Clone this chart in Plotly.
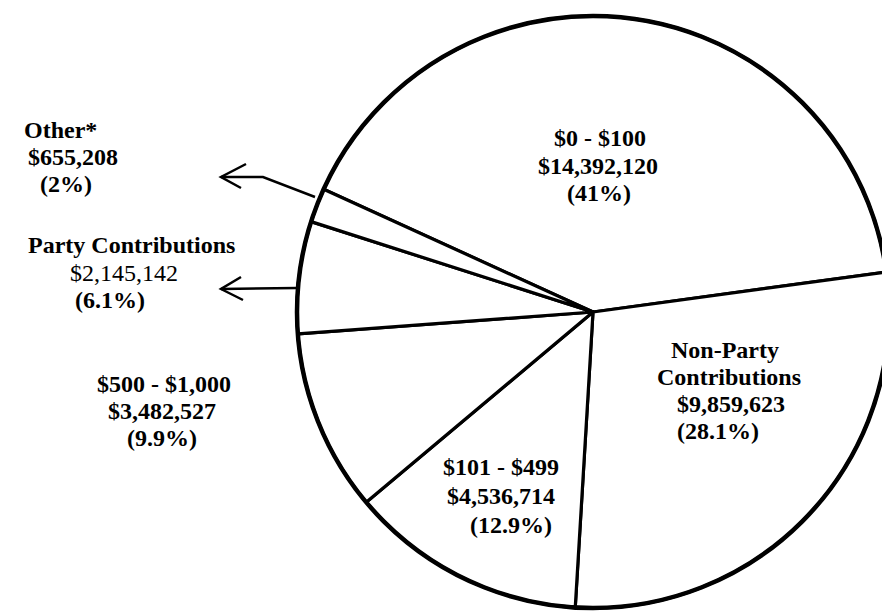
import plotly.graph_objects as go

# ---- data ----
categories = ["$0 - $100", "Non-Party Contributions", "$101 - $499",
              "$500 - $1,000", "Party Contributions", "Other*"]
amounts = [14392120, 9859623, 4536714, 3482527, 2145142, 655208]
amount_labels = ["$14,392,120", "$9,859,623", "$4,536,714",
                 "$3,482,527", "$2,145,142", "$655,208"]
pct_labels = ["(41%)", "(28.1%)", "(12.9%)", "(9.9%)", "(6.1%)", "(2%)"]

W, H = 890, 611
OFF = 8  # page body margin offset
def px(x):
    return (x - OFF) / W
def py(y):
    return 1 - (y - OFF) / H

fig = go.Figure()
fig.add_trace(go.Pie(
    labels=categories, values=amounts, sort=False, direction="clockwise",
    rotation=-65.5, textinfo="none", hoverinfo="none", showlegend=False,
    marker=dict(colors=["white"] * 6, line=dict(color="black", width=3.2)),
    domain=dict(x=[px(297), px(889)], y=[py(608), py(16)]),
))
# heavier outer rim
fig.add_shape(type="circle", xref="paper", yref="paper",
              x0=px(297), x1=px(889), y0=py(608), y1=py(16),
              line=dict(color="black", width=4.5))

FONT = "Liberation Serif"
# (category index, [line x centres], [line y centres], title lines)
label_layout = [
    (0, [600, 598, 599], [138, 166, 193], ["$0 - $100"]),
    (1, [725, 729, 731, 718], [350, 377, 404, 431], ["Non-Party", "Contributions"]),
    (2, [501, 501, 511], [467, 496, 525], ["$101 - $499"]),
    (3, [164, 162, 162], [384, 411, 438], ["$500 - $1,000"]),
    (4, [132, 124, 110], [245, 273, 300], ["Party Contributions"]),
    (5, [60, 73, 66], [130, 157, 184], ["Other*"]),
]
for idx, xs, ys, title_lines in label_layout:
    lines = title_lines + [amount_labels[idx], pct_labels[idx]]
    for txt, xx, yy in zip(lines, xs, ys):
        bold = not (idx == 4 and txt == amount_labels[idx])
        fig.add_annotation(
            x=px(xx), y=py(yy), xref="paper", yref="paper",
            text=f"<b>{txt}</b>" if bold else txt, showarrow=False,
            xanchor="center", yanchor="middle", borderpad=0,
            font=dict(family=FONT, size=24, color="black"),
        )

def path(points):
    return "M " + " L ".join(f"{px(x)},{py(y)}" for x, y in points)

arrow_paths = [
    [(315, 197), (263, 177), (221, 177)],
    [(246, 164), (221, 177), (241, 188)],
    [(297, 288), (221, 289)],
    [(241, 277), (221, 289), (243, 300)],
]
for pts in arrow_paths:
    fig.add_shape(type="path", path=path(pts), xref="paper", yref="paper",
                  line=dict(color="black", width=2.5))

fig.update_layout(
    width=W, height=H, margin=dict(l=0, r=0, t=0, b=0),
    paper_bgcolor="white", plot_bgcolor="white",
)
fig.write_html("out.html")
